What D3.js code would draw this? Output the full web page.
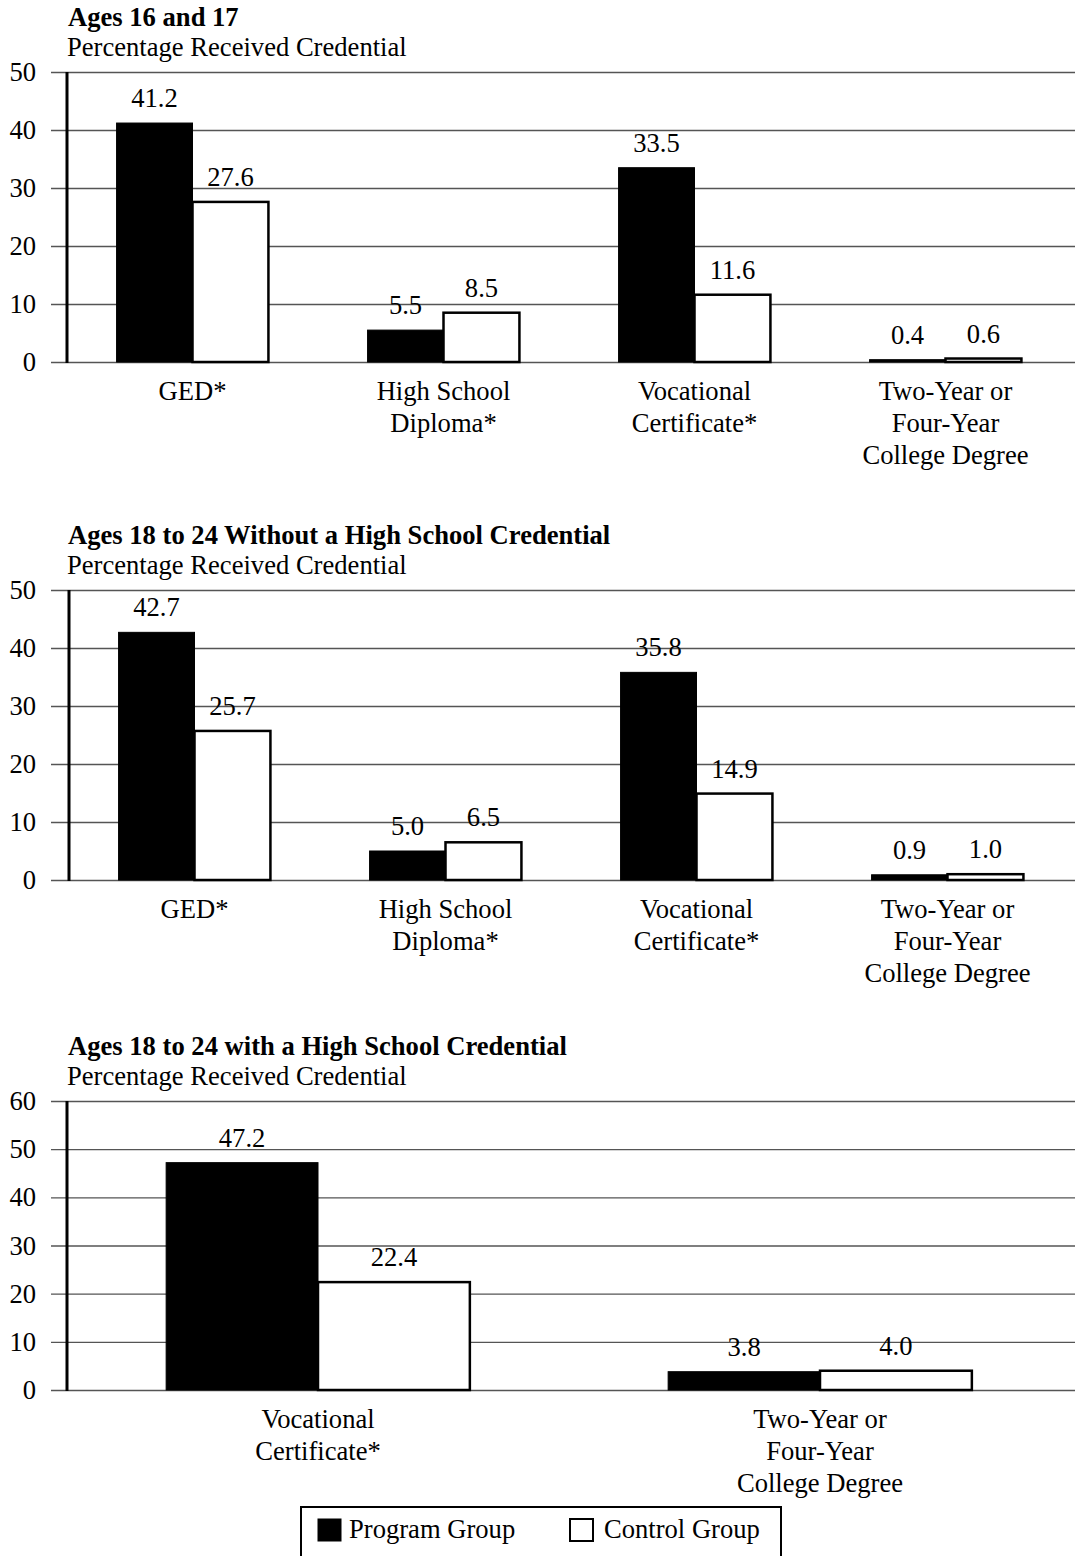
<!DOCTYPE html>
<html>
<head>
<meta charset="utf-8">
<script src="https://cdn.jsdelivr.net/npm/d3@7"></script>
<style>
  html, body { margin: 0; padding: 0; background: #fff; }
  svg { display: block; }
  text { font-family: "Liberation Serif", "Times New Roman", serif; fill: #000; }
</style>
</head>
<body>
<svg id="chart" width="1078" height="1556"></svg>
<script>
// ---------- DATA ----------
const seriesNames = ["Program Group", "Control Group"];

const panel1Title = "Ages 16 and 17";
const panel1Categories = [["GED*"], ["High School", "Diploma*"], ["Vocational", "Certificate*"], ["Two-Year or", "Four-Year", "College Degree"]];
const panel1Program = [41.2, 5.5, 33.5, 0.4];
const panel1Control = [27.6, 8.5, 11.6, 0.6];
const panel1Ticks = [0, 10, 20, 30, 40, 50];

const panel2Title = "Ages 18 to 24 Without a High School Credential";
const panel2Categories = [["GED*"], ["High School", "Diploma*"], ["Vocational", "Certificate*"], ["Two-Year or", "Four-Year", "College Degree"]];
const panel2Program = [42.7, 5.0, 35.8, 0.9];
const panel2Control = [25.7, 6.5, 14.9, 1.0];
const panel2Ticks = [0, 10, 20, 30, 40, 50];

const panel3Title = "Ages 18 to 24 with a High School Credential";
const panel3Categories = [["Vocational", "Certificate*"], ["Two-Year or", "Four-Year", "College Degree"]];
const panel3Program = [47.2, 3.8];
const panel3Control = [22.4, 4.0];
const panel3Ticks = [0, 10, 20, 30, 40, 50, 60];

const yAxisLabel = "Percentage Received Credential";

// ---------- DRAW ----------
const svg = d3.select("#chart");
const FS = 26.6;
const fmt = d3.format(".1f");

function drawPanel(cfg) {
  const { title, categories, program, control, ticks, top, bottom, shift } = cfg;
  const axisX = 67 + shift, gridLeft = 51, gridRight = 1075, plotRight = 1071 + shift;
  const g = svg.append("g");
  const ymax = d3.max(ticks);
  const y = d3.scaleLinear().domain([0, ymax]).range([bottom, top]);
  const keys = categories.map(c => c.join(" "));
  const x = d3.scaleBand().domain(keys).range([axisX, plotRight]).paddingInner(0.395).paddingOuter(0.1975);
  const xs = d3.scaleBand().domain(seriesNames).range([0, x.bandwidth()]).padding(0);

  // titles
  g.append("text").attr("x", 68).attr("y", top - 46).attr("font-size", FS).attr("font-weight", "bold").text(title);
  g.append("text").attr("x", 67).attr("y", top - 16).attr("font-size", FS).text(yAxisLabel);

  // gridlines + tick labels
  const axis = d3.axisLeft(y).tickValues(ticks).tickSize(-(gridRight - gridLeft)).tickPadding(15).tickFormat(d3.format("d"));
  const ag = g.append("g").attr("transform", `translate(${gridLeft},0)`).call(axis);
  ag.select(".domain").remove();
  ag.selectAll(".tick line").attr("stroke", "#555").attr("stroke-width", 1.4);
  ag.selectAll(".tick text").attr("font-size", FS).attr("font-family", "Liberation Serif, serif").attr("fill", "#000");

  // vertical axis line
  g.append("line").attr("x1", axisX).attr("x2", axisX).attr("y1", y(ymax)).attr("y2", y(0) + 1)
    .attr("stroke", "#000").attr("stroke-width", 3);

  const rows = keys.map((k, i) => ({ key: k, vals: [
    { s: seriesNames[0], v: program[i] },
    { s: seriesNames[1], v: control[i] }
  ]}));

  const grp = g.selectAll(".cat").data(rows).join("g").attr("transform", d => `translate(${x(d.key)},0)`);
  grp.selectAll("rect").data(d => d.vals).join("rect")
    .attr("x", d => xs(d.s))
    .attr("y", d => y(d.v))
    .attr("width", xs.bandwidth())
    .attr("height", d => y(0) - y(d.v))
    .attr("fill", d => d.s === seriesNames[0] ? "#000" : "#fff")
    .attr("stroke", "#000")
    .attr("stroke-width", d => d.s === seriesNames[0] ? 1 : 2.5);
  grp.selectAll("text.val").data(d => d.vals).join("text").attr("class", "val")
    .attr("x", d => xs(d.s) + xs.bandwidth() / 2)
    .attr("y", d => y(d.v) - 16)
    .attr("text-anchor", "middle").attr("font-size", FS)
    .text(d => fmt(d.v));

  // category labels
  categories.forEach((lines, i) => {
    const cx = x(keys[i]) + x.bandwidth() / 2;
    lines.forEach((ln, j) => {
      g.append("text").attr("x", cx).attr("y", bottom + 38 + j * 32)
        .attr("text-anchor", "middle").attr("font-size", FS).text(ln);
    });
  });
}

drawPanel({ title: panel1Title, categories: panel1Categories, program: panel1Program, control: panel1Control, ticks: panel1Ticks, top: 72, bottom: 362, shift: 0 });
drawPanel({ title: panel2Title, categories: panel2Categories, program: panel2Program, control: panel2Control, ticks: panel2Ticks, top: 590, bottom: 880, shift: 2 });
drawPanel({ title: panel3Title, categories: panel3Categories, program: panel3Program, control: panel3Control, ticks: panel3Ticks, top: 1101, bottom: 1390, shift: 0 });

// legend
const lg = svg.append("g");
lg.append("rect").attr("x", 301).attr("y", 1507).attr("width", 480).attr("height", 70)
  .attr("fill", "#fff").attr("stroke", "#000").attr("stroke-width", 2);
const legendItems = [
  { name: seriesNames[0], sx: 318, tx: 349, fill: "#000", sw: 1 },
  { name: seriesNames[1], sx: 570, tx: 604, fill: "#fff", sw: 2 }
];
legendItems.forEach(it => {
  lg.append("rect").attr("x", it.sx).attr("y", 1519).attr("width", 23).attr("height", 22)
    .attr("fill", it.fill).attr("stroke", "#000").attr("stroke-width", it.sw);
  lg.append("text").attr("x", it.tx).attr("y", 1538).attr("font-size", FS).text(it.name);
});
</script>
</body>
</html>
